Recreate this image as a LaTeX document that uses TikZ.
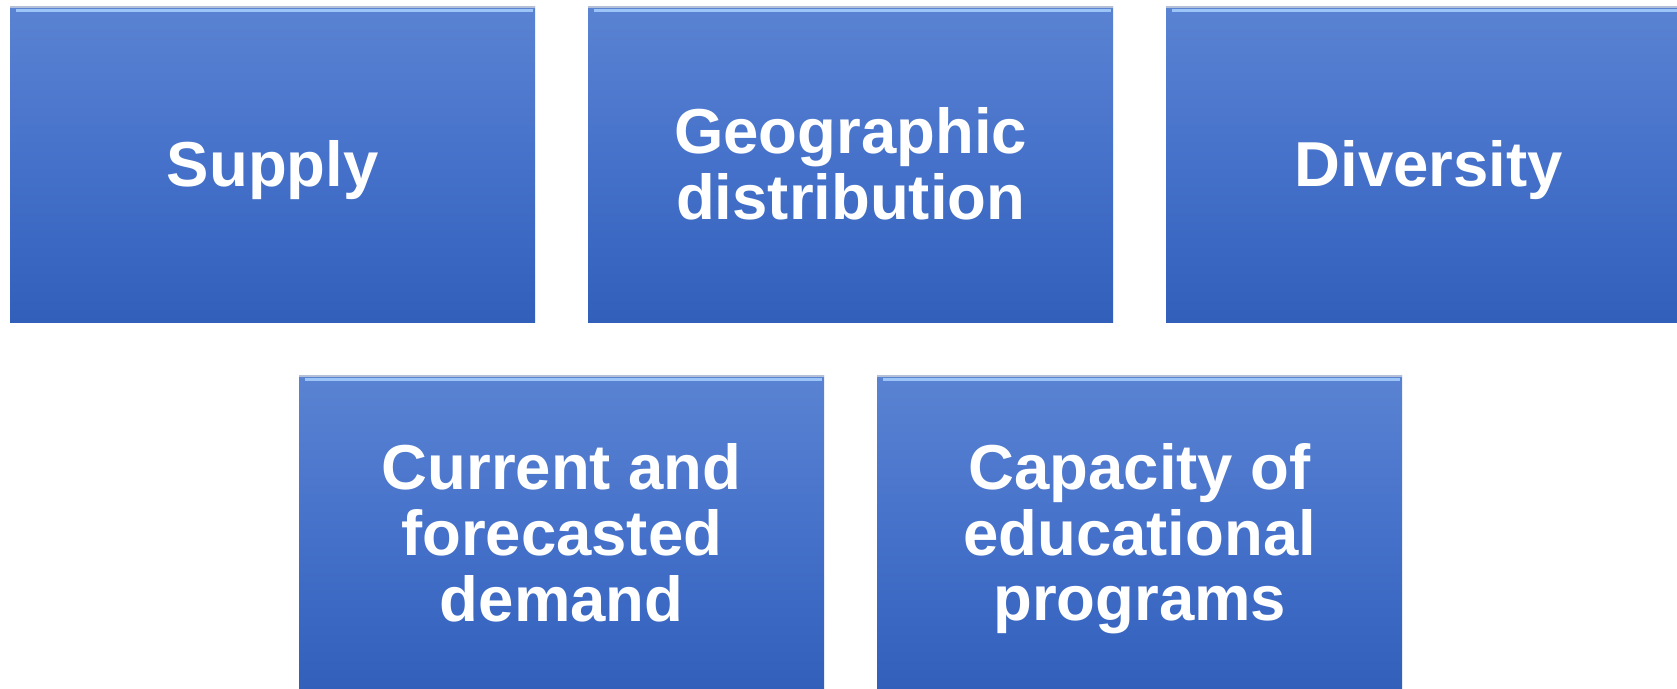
\documentclass[tikz,border=0pt]{standalone}
\usepackage{fontspec}
\setmainfont{Liberation Sans}
\definecolor{boxtop}{HTML}{5A83D2}
\definecolor{boxmid}{HTML}{4571CA}
\definecolor{boxbot}{HTML}{315FBA}
\definecolor{hilite}{HTML}{9CC4F6}
\definecolor{rim}{HTML}{B4C0D8}
\newcommand{\boxlbl}[1]{\raisebox{-9pt}[\height][\depth]{\begin{tabular}{@{}c@{}}#1\end{tabular}}}
\begin{document}
\begin{tikzpicture}[x=1pt,y=-1pt,
  box/.style={minimum width=525pt, minimum height=316pt, inner sep=0pt,
    top color=boxtop, bottom color=boxbot, middle color=boxmid,
    text=white, font=\fontsize{63.5}{65.5}\selectfont\bfseries,
    anchor=north west},
  rimline/.style={draw=rim, line width=1.5pt},
  hiline/.style={draw=hilite, line width=3pt},
]
\useasboundingbox (0,0) rectangle (1677,688);
\clip (0,0) rectangle (1677,688);
\fill[white] (0,0) rectangle (1677,688);
\node[box] (supply) at (10,6) {\boxlbl{Supply}};
\node[box] (geo) at (588,6) {\boxlbl{Geographic\\distribution}};
\node[box] (div) at (1166,6) {\boxlbl{Diversity}};
\node[box] (dem) at (299,375) {\boxlbl{Current and\\forecasted\\demand}};
\node[box] (cap) at (877,375) {\boxlbl{Capacity of\\educational\\programs}};
\foreach \b in {supply,geo,div,dem,cap}{
  \draw[rimline] ([yshift=-0.75pt]\b.north west) -- ([yshift=-0.75pt]\b.north east);
  \draw[hiline] ([yshift=-4pt,xshift=6pt]\b.north west) -- ([yshift=-4pt,xshift=-2pt]\b.north east);
}
\end{tikzpicture}
\end{document}
